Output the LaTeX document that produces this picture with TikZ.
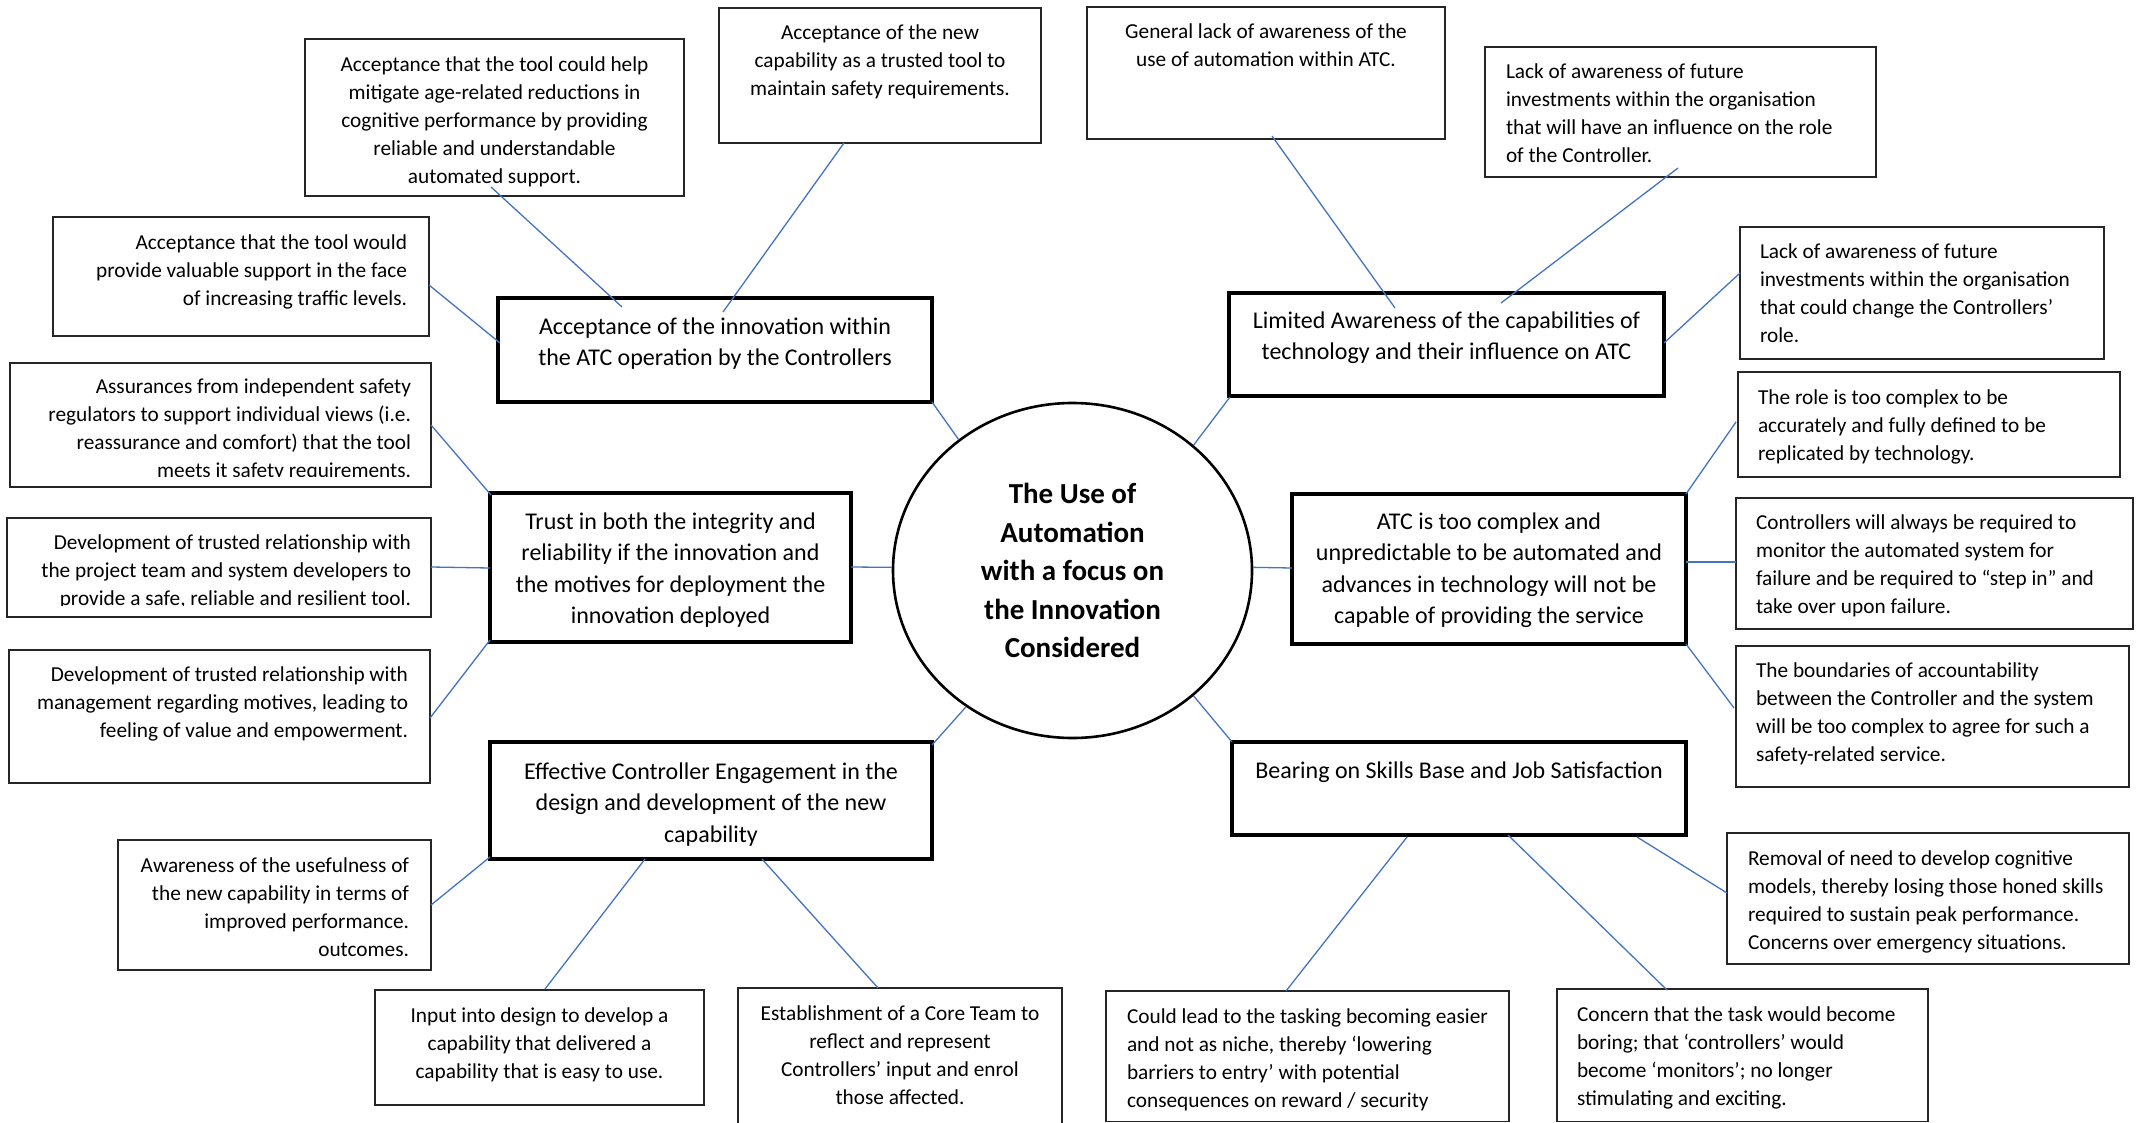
\documentclass[tikz,border=0pt]{standalone}
\usepackage{fontspec}
\setmainfont{Carlito}
\usetikzlibrary{shapes.geometric}

\definecolor{linkblue}{HTML}{4472C4}
\definecolor{edgegray}{HTML}{262626}

% paragraph alignment inside a card (pad = distance of the text from the frame)
\newcommand{\AL}[1]{\raggedright\leftskip=#1pt\rightskip=3pt plus 1fil\relax}
\newcommand{\AR}[1]{\raggedleft\rightskip=#1pt\leftskip=3pt plus 1fil\relax}
\newcommand{\AC}{\centering\leftskip=4pt plus 1fil\rightskip=4pt plus 1fil\relax}

% #1 style, #2 name, #3 left, #4 top, #5 right, #6 bottom, #7 alignment, #8 first baseline, #9 text
\newcommand{\card}[9]{%
  \node[#1, minimum width={#5-#3}, minimum height={#6-#4}] (#2) at (#3,#4)
    {\parbox[t][\dimexpr#6pt-#4pt\relax][t]{\dimexpr#5pt-#3pt\relax}{#7\rule{0pt}{#8pt}#9}};}

\tikzset{
  smallbox/.style={draw=edgegray, line width=1.8pt, fill=white, inner sep=0pt, outer sep=0pt,
    anchor=north west, font=\fontsize{21.3}{28}\selectfont},
  mainbox/.style={draw=black, line width=3.8pt, fill=white, inner sep=0pt, outer sep=0pt,
    anchor=north west, font=\fontsize{24}{31.5}\selectfont},
  frame/.style={draw=edgegray, line width=1.8pt},
  hub/.style={ellipse, draw=black, line width=2.6pt, fill=white, inner sep=0pt,
    minimum width=359pt, minimum height=335pt, align=center,
    font=\bfseries\fontsize{29}{38.5}\selectfont},
  link/.style={draw=linkblue, line width=1.3pt},
}

\begin{document}
\begin{tikzpicture}[x=1pt, y=-1pt]
\useasboundingbox (0,0) rectangle (2138,1123);
\fill[white] (0,0) rectangle (2138,1123);

% central theme
\node[hub] (c) at (1072.5,570.5) {The Use of\\Automation\\with a focus on\\the Innovation\\Considered};

% main themes
\card{mainbox}{m7}{498}{298}{932}{402}{\AC}{36.3}{Acceptance of the innovation within\\the ATC operation by the Controllers}
\card{mainbox}{m8}{1229}{293}{1664}{396}{\AC}{35.3}{Limited Awareness of the capabilities of\\technology and their influence on ATC}
\card{mainbox}{m10}{490}{493}{851}{642}{\AC}{36.3}{Trust in both the integrity and\\reliability if the innovation and\\the motives for deployment the\\innovation deployed}
\card{mainbox}{m13}{1292}{494}{1686}{644}{\AC}{35.3}{ATC is too complex and\\unpredictable to be automated and\\advances in technology will not be\\capable of providing the service}
\card{mainbox}{m17}{490}{742}{932}{859}{\AC}{37.3}{Effective Controller Engagement in the\\design and development of the new\\capability}
\card{mainbox}{m18}{1232}{742}{1686}{835}{\AC}{36.3}{Bearing on Skills Base and Job Satisfaction}

% sub-themes: acceptance
\card{smallbox}{b1}{305}{39}{684}{196}{\AC}{32.8}{Acceptance that the tool could help\\mitigate age-related reductions in\\cognitive performance by providing\\reliable and understandable\\automated support.}
\card{smallbox}{b2}{719}{8}{1041}{143}{\AC}{31.8}{Acceptance of the new\\capability as a trusted tool to\\maintain safety requirements.}
\card{smallbox}{b6}{53}{217}{429}{336}{\AR{22}}{32.8}{Acceptance that the tool would\\provide valuable support in the face\\of increasing traffic levels.}

% sub-themes: awareness
\card{smallbox}{b3}{1087}{7}{1445}{139}{\AC}{31.8}{General lack of awareness of the\\use of automation within ATC.}
\card{smallbox}{b4}{1485}{47}{1876}{177}{\AL{21}}{31.8}{Lack of awareness of future\\investments within the organisation\\that will have an influence on the role\\of the Controller.}
\card{smallbox}{b5}{1740}{227}{2104}{359}{\AL{20}}{31.8}{Lack of awareness of future\\investments within the organisation\\that could change the Controllers’\\role.}

% sub-themes: trust (the last line of the first two is cut by the frame margin)
\begin{scope}
  \clip (0,355) rectangle (440,476.5);
  \card{smallbox}{b9}{10}{363}{431}{487}{\AR{20}}{30.8}{Assurances from independent safety\\regulators to support individual views (i.e.\\reassurance and comfort) that the tool\\meets it safety requirements.}
\end{scope}
\draw[frame] (b9.north west) rectangle (b9.south east);
\begin{scope}
  \clip (0,510) rectangle (440,605.5);
  \card{smallbox}{b11}{7}{518}{431}{617}{\AR{20}}{31.8}{Development of trusted relationship with\\the project team and system developers to\\provide a safe, reliable and resilient tool.}
\end{scope}
\draw[frame] (b11.north west) rectangle (b11.south east);
\card{smallbox}{b12}{9}{650}{430}{783}{\AR{22}}{31.8}{Development of trusted relationship with\\management regarding motives, leading to\\feeling of value and empowerment.}

% sub-themes: complexity
\card{smallbox}{b14}{1738}{372}{2120}{477}{\AL{20}}{32.8}{The role is too complex to be\\accurately and fully defined to be\\replicated by technology.}
\card{smallbox}{b15}{1736}{498}{2133}{629}{\AL{20}}{31.8}{Controllers will always be required to\\monitor the automated system for\\failure and be required to “step in” and\\take over upon failure.}
\card{smallbox}{b16}{1736}{646}{2129}{787}{\AL{20}}{31.8}{The boundaries of accountability\\between the Controller and the system\\will be too complex to agree for such a\\safety-related service.}

% sub-themes: engagement
\card{smallbox}{b20}{118}{840}{431}{970}{\AR{22}}{32.8}{Awareness of the usefulness of\\the new capability in terms of\\improved performance.\\outcomes.}
\card{smallbox}{b21}{375}{990}{704}{1105}{\AC}{32.8}{Input into design to develop a\\capability that delivered a\\capability that is easy to use.}
\card{smallbox}{b22}{738}{988}{1062}{1132}{\AC}{32.8}{Establishment of a Core Team to\\reflect and represent\\Controllers’ input and enrol\\those affected.}

% sub-themes: skills and satisfaction
\card{smallbox}{b19}{1727}{833}{2129}{964}{\AL{21}}{32.8}{Removal of need to develop cognitive\\models, thereby losing those honed skills\\required to sustain peak performance.\\Concerns over emergency situations.}
\card{smallbox}{b23}{1106}{991}{1509}{1121.5}{\AL{21}}{32.8}{Could lead to the tasking becoming easier\\and not as niche, thereby ‘lowering\\barriers to entry’ with potential\\consequences on reward / security}
\card{smallbox}{b24}{1557}{989}{1928}{1121.5}{\AL{20}}{32.8}{Concern that the task would become\\boring; that ‘controllers’ would\\become ‘monitors’; no longer\\stimulating and exciting.}

% connectors
\draw[link] ([shift={(186,148)}]b1.north west) -- ([shift={(124,9)}]m7.north west);
\draw[link] ([shift={(125,135)}]b2.north west) -- ([shift={(225,14)}]m7.north west);
\draw[link] ([shift={(376,68)}]b6.north west) -- ([shift={(2,45)}]m7.north west);
\draw[link] ([shift={(434,104)}]m7.north west) -- (c.131);

\draw[link] ([shift={(185,129)}]b3.north west) -- ([shift={(166,15)}]m8.north west);
\draw[link] ([shift={(193,121)}]b4.north west) -- ([shift={(272,10)}]m8.north west);
\draw[link] ([shift={(0,46)}]b5.north west) -- ([shift={(435,50)}]m8.north west);
\draw[link] ([shift={(1,104)}]m8.north west) -- (c.46);

\draw[link] ([shift={(421,62)}]b9.north west) -- ([shift={(1,2)}]m10.north west);
\draw[link] ([shift={(424,49)}]b11.north west) -- ([shift={(0,75)}]m10.north west);
\draw[link] ([shift={(421,68)}]b12.north west) -- ([shift={(0,147)}]m10.north west);
\draw[link] ([shift={(361,74)}]m10.north west) -- (c.179);

\draw[link] (c.1) -- ([shift={(0,74)}]m13.north west);
\draw[link] ([shift={(394,0)}]m13.north west) -- ([shift={(-2,50)}]b14.north west);
\draw[link] ([shift={(394,68)}]m13.north west) -- ([shift={(0,64)}]b15.north west);
\draw[link] ([shift={(394,150)}]m13.north west) -- ([shift={(-2,62)}]b16.north west);

\draw[link] (c.232) -- ([shift={(442,3)}]m17.north west);
\draw[link] ([shift={(0,115)}]m17.north west) -- ([shift={(313,65)}]b20.north west);
\draw[link] ([shift={(155,117)}]m17.north west) -- ([shift={(170,-1)}]b21.north west);
\draw[link] ([shift={(272,117)}]m17.north west) -- ([shift={(140,0)}]b22.north west);

\draw[link] (c.314) -- (m18.north west);
\draw[link] ([shift={(405,95)}]m18.north west) -- ([shift={(0,60)}]b19.north west);
\draw[link] ([shift={(175,95)}]m18.north west) -- ([shift={(180,0)}]b23.north west);
\draw[link] ([shift={(276,93)}]m18.north west) -- ([shift={(110,1)}]b24.north west);
\end{tikzpicture}
\end{document}
